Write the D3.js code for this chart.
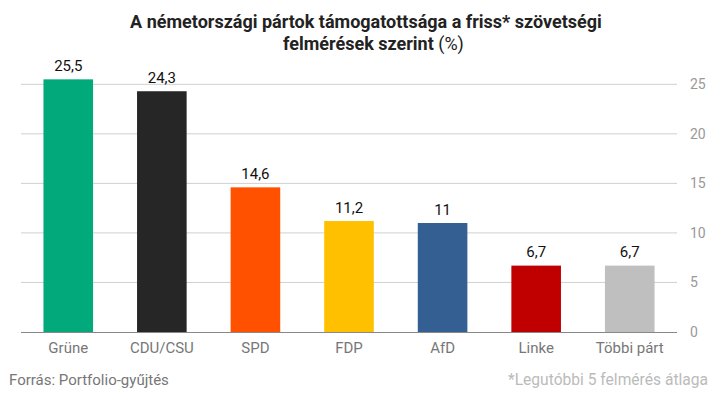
<!DOCTYPE html>
<html>
<head>
<meta charset="utf-8">
<script src="https://cdn.jsdelivr.net/npm/d3@7"></script>
<style>
  html, body { margin: 0; padding: 0; background: #fff; }
  svg { display: block; font-family: Roboto, "Noto Sans", sans-serif; }
</style>
</head>
<body>
<svg id="chart" width="721" height="397"></svg>
<script>
const categories = ["Grüne", "CDU/CSU", "SPD", "FDP", "AfD", "Linke", "Többi párt"];
const values = [25.5, 24.3, 14.6, 11.2, 11, 6.7, 6.7];
const colors = ["#02a97b", "#262626", "#ff5100", "#ffc000", "#345f92", "#c00000", "#bfbfbf"];
const yTicks = [0, 5, 10, 15, 20, 25];
const titleLine1 = "A németországi pártok támogatottsága a friss* szövetségi";
const titleLine2Bold = "felmérések szerint";
const titleLine2Normal = " (%)";
const sourceText = "Forrás: Portfolio-gyűjtés";
const noteText = "*Legutóbbi 5 felmérés átlaga";

const svg = d3.select("#chart");
const mLeft = 21, mRight = 677, mTop = 84.3, mBottom = 332;

const x = d3.scaleBand().domain(categories).range([mLeft, mRight]).paddingInner(0.47).paddingOuter(0.24);
const y = d3.scaleLinear().domain([0, 25]).range([mBottom, mTop]);

// gridlines
svg.append("g").selectAll("line").data(yTicks.filter(d => d > 0)).join("line")
  .attr("x1", mLeft).attr("x2", mRight)
  .attr("y1", d => y(d)).attr("y2", d => y(d))
  .attr("stroke", "#d0d0d0").attr("stroke-width", 1);

// right axis tick labels
const yAxis = d3.axisRight(y).tickValues(yTicks).tickSize(0).tickPadding(0).tickFormat(d3.format("d"));
const ga = svg.append("g").attr("transform", `translate(690,0)`).call(yAxis);
ga.select(".domain").remove();
ga.selectAll("text").attr("fill", "#999").attr("font-size", 14).attr("font-family", "Roboto, sans-serif");

// bars
svg.append("g").selectAll("rect").data(values).join("rect")
  .attr("x", (d, i) => x(categories[i]))
  .attr("width", x.bandwidth())
  .attr("y", d => y(d))
  .attr("height", d => y(0) - y(d))
  .attr("fill", (d, i) => colors[i]);

// baseline
svg.append("line").attr("x1", mLeft).attr("x2", mRight)
  .attr("y1", mBottom + 0.5).attr("y2", mBottom + 0.5)
  .attr("stroke", "#888").attr("stroke-width", 1);

// value labels
const fmt = v => String(v).replace(".", ",");
svg.append("g").selectAll("text").data(values).join("text")
  .attr("x", (d, i) => x(categories[i]) + x.bandwidth() / 2)
  .attr("y", d => y(d) - 8.5)
  .attr("text-anchor", "middle")
  .attr("font-size", 15).attr("fill", "#111")
  .text(d => fmt(d));

// category labels (bottom axis)
const xAxis = d3.axisBottom(x).tickSize(0).tickPadding(0);
const gx = svg.append("g").attr("transform", `translate(0,${mBottom})`).call(xAxis);
gx.select(".domain").remove();
gx.selectAll("text").attr("dy", null).attr("y", 20.5)
  .attr("fill", "#777").attr("font-size", 15).attr("font-family", "Roboto, sans-serif");

// title
svg.append("text").attr("x", 366).attr("y", 27.7).attr("text-anchor", "middle")
  .attr("font-size", 18).attr("font-weight", "bold").attr("fill", "#222").text(titleLine1);
const t2 = svg.append("text").attr("x", 283).attr("y", 50).attr("text-anchor", "start")
  .attr("font-size", 18).attr("fill", "#222");
t2.append("tspan").attr("font-weight", "bold").text(titleLine2Bold);
t2.append("tspan").attr("font-weight", "normal").text(titleLine2Normal);

// footer
svg.append("text").attr("x", 9).attr("y", 384.5).attr("font-size", 15).attr("fill", "#777").text(sourceText);
svg.append("text").attr("x", 708).attr("y", 384.5).attr("text-anchor", "end").attr("font-size", 15.6).attr("fill", "#bbb").text(noteText);
</script>
</body>
</html>
